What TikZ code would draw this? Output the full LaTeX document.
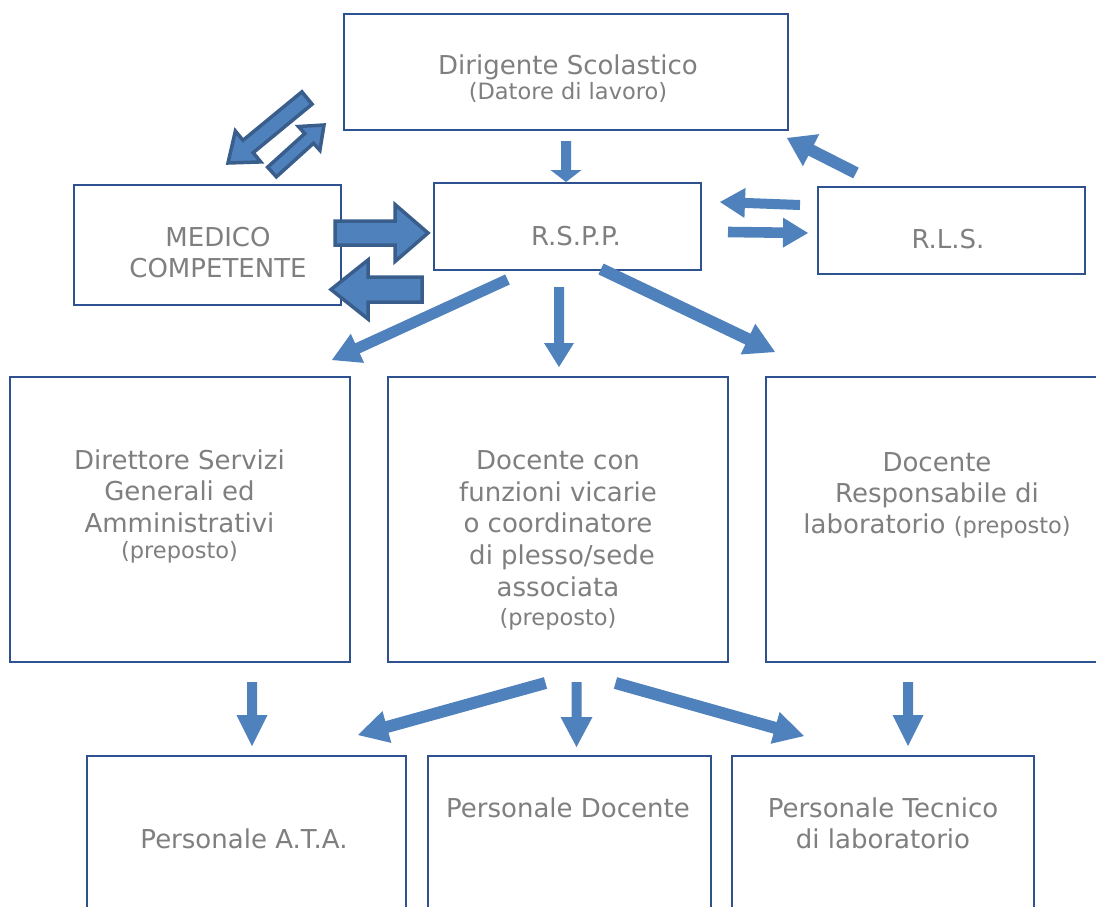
\documentclass[tikz,border=0pt]{standalone}
\usepackage{fontspec}
\setmainfont{DejaVu Sans}
\usetikzlibrary{calc}
\definecolor{boxline}{HTML}{2E528F}
\definecolor{arrfill}{HTML}{4F81BD}
\definecolor{arrline}{HTML}{3A5E8C}
\definecolor{txtgray}{HTML}{7F7F7F}
% block arrow: #1 style, #2 start coord, #3 end coord, #4 half shaft, #5 half head, #6 head length
\newcommand\blockarrow[6]{%
  \coordinate (bah) at ($(#3)!#6!(#2)$);
  \path[#1] ($(#2)!#4!90:(#3)$) -- ($(bah)!#4!-90:(#2)$) -- ($(bah)!#5!-90:(#2)$) -- (#3)
    -- ($(bah)!#5!90:(#2)$) -- ($(bah)!#4!90:(#2)$) -- ($(#2)!#4!-90:(#3)$) -- cycle;
}
\tikzset{
  box/.style={draw=boxline, line width=2pt, rectangle, inner sep=0pt, fill=white},
  lbl/.style={text=txtgray, align=center, anchor=base, inner sep=0pt, font=\fontsize{26}{31.5}\selectfont},
  thinarr/.style={fill=arrfill, draw=none},
  bigarr/.style={fill=arrfill, draw=arrline, line width=3.5pt, line join=miter},
}
\newcommand\sm{\fontsize{22.5}{26}\selectfont}
\begin{document}
\begin{tikzpicture}[x=1pt,y=-1pt]
\useasboundingbox[fill=white] (0,0) rectangle (1096,907);
% boxes
\node[box, minimum width=444, minimum height=116] (dir) at (566,72) {};
\node[box, minimum width=267, minimum height=87] (rspp) at (567.5,226.5) {};
\node[box, minimum width=267, minimum height=120] (med) at (207.5,245) {};
\node[box, minimum width=267, minimum height=87] (rls) at (951.5,230.5) {};
\node[box, minimum width=340, minimum height=285] (dsga) at (180,519.5) {};
\node[box, minimum width=340, minimum height=285] (vic) at (558,519.5) {};
\node[box, minimum width=340, minimum height=285] (resp) at (936,519.5) {};
\node[box, minimum width=319, minimum height=174] (ata) at (246.5,843) {};
\node[box, minimum width=283, minimum height=174] (pdoc) at (569.5,843) {};
\node[box, minimum width=302, minimum height=174] (ptec) at (883,843) {};
% labels (base anchor = baseline of the last line)
\node[lbl] (tdir) at (568,99.3) {Dirigente Scolastico\\[-6.2pt]{\sm (Datore di lavoro)}};
\node[lbl] (trspp) at (576,245) {R.S.P.P.};
\node[lbl, font=\fontsize{26}{30.3}\selectfont] (tmed) at (218,277) {MEDICO\\COMPETENTE};
\node[lbl] (trls) at (948,248) {R.L.S.};
\node[lbl] (tdsga) at (179.5,558) {Direttore Servizi\\Generali ed\\Amministrativi\\[-5.5pt]{\sm (preposto)}};
\node[lbl, font=\fontsize{26}{31.9}\selectfont] (tvic) at (558,625) {Docente con\\funzioni vicarie\\o coordinatore\\\hspace{8pt}di plesso/sede\\associata\\[-3.6pt]{\sm (preposto)}};
\node[lbl, font=\fontsize{26}{30.7}\selectfont] (tresp) at (937,533) {Docente\\Responsabile di\\laboratorio {\sm (preposto)}};
\node[lbl] (tata) at (244,848) {Personale A.T.A.};
\node[lbl] (tpdoc) at (568,817) {Personale Docente};
\node[lbl, font=\fontsize{26}{31}\selectfont] (tptec) at (883,848) {Personale Tecnico\\di laboratorio};
% arrow end points
\coordinate (a1s) at (566,141);   \coordinate (a1e) at (566,182);
\coordinate (a2s) at (856,173);   \coordinate (a2e) at (787,138);
\coordinate (a3s) at (800,205);   \coordinate (a3e) at (720,202);
\coordinate (a4s) at (728,232);   \coordinate (a4e) at (808,233);
\coordinate (a5s) at (507.5,279.5); \coordinate (a5e) at (332,360);
\coordinate (a6s) at (559,287);   \coordinate (a6e) at (559,367);
\coordinate (a7s) at (601,269);   \coordinate (a7e) at (775,352);
\coordinate (a8s) at (252,682);   \coordinate (a8e) at (252,746);
\coordinate (a9s) at (545.5,683); \coordinate (a9e) at (358,735);
\coordinate (a10s) at (576.5,682); \coordinate (a10e) at (576.5,747);
\coordinate (a11s) at (615.5,683); \coordinate (a11e) at (804,736);
\coordinate (a12s) at (908,682); \coordinate (a12e) at (908,746);
% thin arrows
\blockarrow{thinarr}{a1s}{a1e}{5pt}{15.5pt}{12pt}
\blockarrow{thinarr}{a2s}{a2e}{6pt}{18pt}{27pt}
\blockarrow{thinarr}{a3s}{a3e}{5pt}{15pt}{25pt}
\blockarrow{thinarr}{a4s}{a4e}{5.3pt}{15pt}{25pt}
\blockarrow{thinarr}{a5s}{a5e}{5.5pt}{16pt}{28pt}
\blockarrow{thinarr}{a6s}{a6e}{5pt}{15pt}{24pt}
\blockarrow{thinarr}{a7s}{a7e}{6pt}{17pt}{30pt}
\blockarrow{thinarr}{a8s}{a8e}{5pt}{15.5pt}{31pt}
\blockarrow{thinarr}{a9s}{a9e}{6pt}{16.5pt}{30pt}
\blockarrow{thinarr}{a10s}{a10e}{5pt}{16pt}{30pt}
\blockarrow{thinarr}{a11s}{a11e}{6pt}{16.5pt}{30pt}
\blockarrow{thinarr}{a12s}{a12e}{5pt}{15.5pt}{31pt}
% big outlined arrows
\coordinate (b1s) at (307,98);   \coordinate (b1e) at (228,163);
\coordinate (b2s) at (272,172);  \coordinate (b2e) at (324,125);
\coordinate (b3s) at (335,233);  \coordinate (b3e) at (428,233);
\coordinate (b4s) at (422,289.5); \coordinate (b4e) at (331,289.5);
\blockarrow{bigarr}{b1s}{b1e}{8pt}{20pt}{26pt}
\blockarrow{bigarr}{b2s}{b2e}{6.5pt}{16pt}{20pt}
\blockarrow{bigarr}{b3s}{b3e}{12pt}{28.5pt}{33pt}
\blockarrow{bigarr}{b4s}{b4e}{12.5pt}{29.5pt}{37pt}
\end{tikzpicture}
\end{document}
